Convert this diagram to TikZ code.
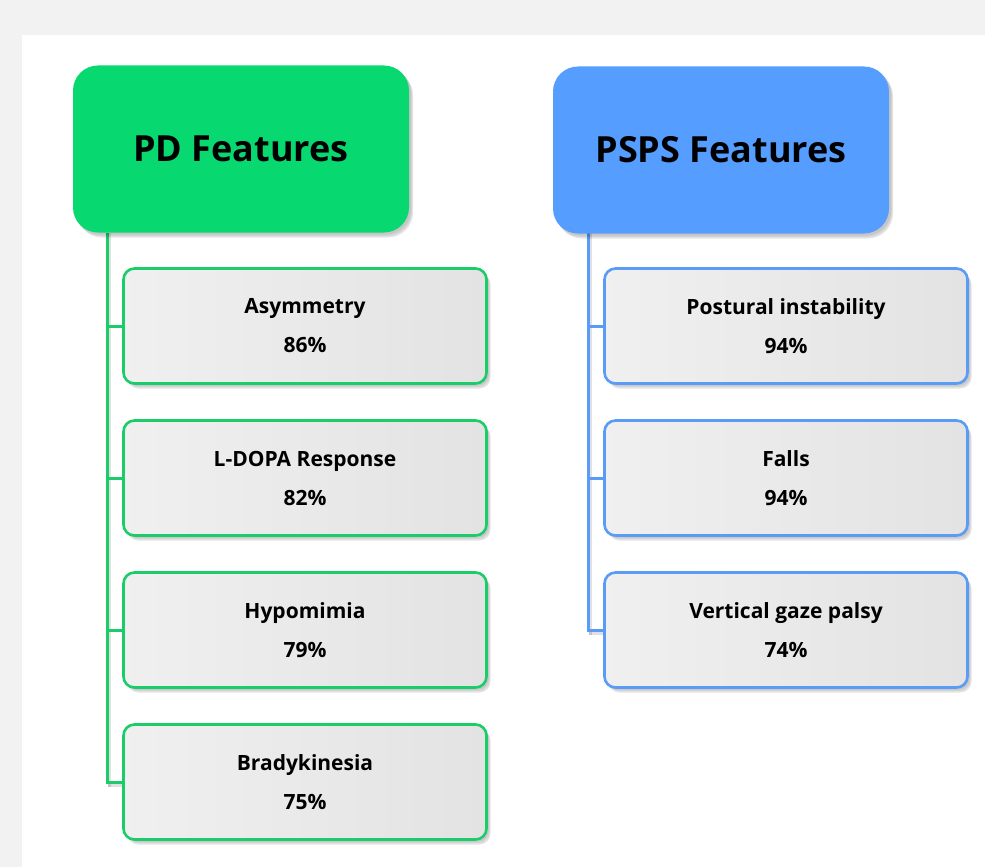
\documentclass[tikz,border=0pt]{standalone}
\usepackage{fontspec}
\setmainfont{Open Sans}
\usetikzlibrary{shadows,backgrounds}
\definecolor{pdgreen}{HTML}{07D870}
\definecolor{pdline}{HTML}{1ACC6A}
\definecolor{psblue}{HTML}{559DFF}
\definecolor{psline}{HTML}{5A9BF6}
\definecolor{bggray}{HTML}{F2F2F2}
\tikzset{
  x=1pt,y=-1pt,
  softshadow/.style={
    general shadow={fill=black, opacity=0.06, shadow xshift=2pt, shadow yshift=-2pt},
    general shadow={fill=black, opacity=0.08, shadow xshift=3pt, shadow yshift=-3.5pt},
    general shadow={fill=black, opacity=0.10, shadow xshift=4pt, shadow yshift=-5pt}},
  header/.style={rounded corners=25pt, minimum width=336pt, minimum height=167pt,
    font=\fontsize{36}{40}\selectfont\bfseries, text=black, softshadow},
  child/.style={rounded corners=11pt, minimum width=363pt, minimum height=115pt,
    line width=2.6pt, left color=white!94!black, right color=white!89!black,
    font=\fontsize{21}{39}\selectfont\bfseries, align=center, text=black, softshadow},
  pdchild/.style={child, draw=pdline},
  pschild/.style={child, draw=psline},
  linkshadow/.style={fill=black, opacity=0.12},
}
\begin{document}
\begin{tikzpicture}
\begin{scope}[on background layer]
\fill[bggray] (0,0) rectangle (985,867);
\fill[white] (22,35) rectangle (985,867);
\end{scope}
\useasboundingbox (0,0) rectangle (985,867);

% PD
\node[header, fill=pdgreen] (pdh) at (241,149) {PD Features};
\coordinate (pdt) at (107,233);
\node[pdchild] (pd1) at (305,326) {Asymmetry\\86\%};
\node[pdchild] (pd2) at (305,478) {L-DOPA Response\\82\%};
\node[pdchild] (pd3) at (305,630) {Hypomimia\\79\%};
\node[pdchild] (pd4) at (305,782) {Bradykinesia\\75\%};

% PSPS
\node[header, fill=psblue] (psh) at (721,150) {PSPS Features};
\coordinate (pst) at (588,233);
\node[pschild] (ps1) at (786,326) {Postural instability\\94\%};
\node[pschild] (ps2) at (786,478) {Falls\\94\%};
\node[pschild] (ps3) at (786,630) {Vertical gaze palsy\\74\%};

\begin{scope}[on background layer]
% PD connectors (shadow, trunk, branches)
\fill[linkshadow] ([xshift=0.5pt]pdt) rectangle ([xshift=3.5pt,yshift=-4.5pt]pdt |- pd4.west);
\fill[linkshadow] ([xshift=0.5pt,yshift=-1.5pt]pdt |- pd4.west) rectangle ([yshift=-4.5pt]pd4.west);
\fill[pdline] ([xshift=-1.5pt]pdt) rectangle ([xshift=1.5pt,yshift=-1.5pt]pdt |- pd4.west);
\foreach \n in {pd1,pd2,pd3,pd4}
  \fill[pdline] ([xshift=-1.5pt,yshift=1.5pt]pdt |- \n.west) rectangle ([yshift=-1.5pt]\n.west);
% PSPS connectors
\fill[linkshadow] ([xshift=0.5pt]pst) rectangle ([xshift=3.5pt,yshift=-4.5pt]pst |- ps3.west);
\fill[linkshadow] ([xshift=0.5pt,yshift=-1.5pt]pst |- ps3.west) rectangle ([yshift=-4.5pt]ps3.west);
\fill[psline] ([xshift=-1.5pt]pst) rectangle ([xshift=1.5pt,yshift=-1.5pt]pst |- ps3.west);
\foreach \n in {ps1,ps2,ps3}
  \fill[psline] ([xshift=-1.5pt,yshift=1.5pt]pst |- \n.west) rectangle ([yshift=-1.5pt]\n.west);
\end{scope}
\end{tikzpicture}
\end{document}
